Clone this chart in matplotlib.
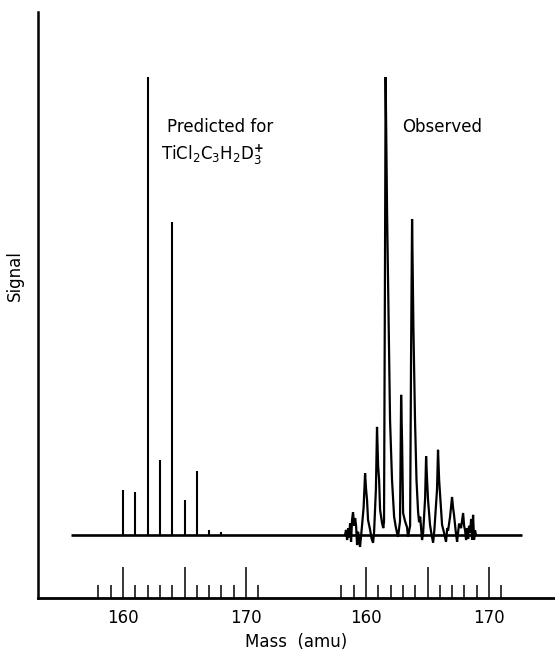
"""Predicted vs observed isotope pattern for TiCl2C3H2D3+ (stick spectrum + trace)."""

import matplotlib
matplotlib.use("Agg")
import matplotlib.pyplot as plt

plt.rcParams["font.family"] = ["DejaVu Sans"]

# ------------------------------------------------------------------ data
# predicted stick spectrum (left mass scale, amu ; signal, tallest = 100)
pred_mass = [160, 161, 162, 163, 164, 165, 166, 167, 168]
pred_signal = [9.8, 9.4, 100, 16.4, 68.3, 7.6, 14.0, 1.1, 0.7]

# observed scan, points (right mass scale, amu ; signal)
obs_mass = [158.29, 158.37, 158.46, 158.54, 158.62, 158.70, 158.78, 158.86,
            158.94, 159.03, 159.11, 159.19, 159.27, 159.35, 159.43, 159.51,
            159.67, 159.80, 159.92, 160.00, 160.08, 160.16, 160.33, 160.45,
            160.57, 160.65, 160.80, 160.89, 160.98, 161.06, 161.14, 161.30,
            161.40, 161.46, 161.54, 161.59, 161.71, 161.87, 161.95, 162.11,
            162.28, 162.40, 162.52, 162.60, 162.76, 162.85, 162.93, 163.01,
            163.17, 163.33, 163.41, 163.58, 163.66, 163.74, 163.85, 163.98,
            164.10, 164.23, 164.31, 164.40, 164.55, 164.64, 164.80, 164.88,
            164.96, 165.04, 165.20, 165.30, 165.45, 165.55, 165.77, 165.85,
            165.94, 166.02, 166.18, 166.34, 166.50, 166.60, 166.67, 166.83,
            166.99, 167.07, 167.15, 167.28, 167.40, 167.48, 167.56, 167.72,
            167.89, 167.97, 168.05, 168.13, 168.21, 168.30, 168.37, 168.46,
            168.54, 168.62, 168.70, 168.78, 168.86, 168.94]
obs_signal = [0.0, 1.1, -1.1, 1.5, -0.5, 2.5, -1.5, 3.3,
              5.0, 2.0, 3.7, 2.0, -2.2, 0.7, -1.0, -2.6,
              2.0, 6.0, 13.5, 10.0, 7.6, 3.3, 1.1, -0.8,
              -1.7, 0.5, 10.0, 23.6, 15.0, 12.0, 5.5, 2.6,
              1.5, 3.0, 60.0, 100.0, 70.0, 40.0, 25.0, 12.0,
              4.0, 2.0, 0.4, -0.4, 3.0, 30.6, 20.0, 4.8,
              3.0, 1.7, -0.4, 2.0, 40.0, 69.0, 45.0, 25.0,
              12.0, 5.0, 2.8, 4.0, -1.1, 0.5, 8.0, 17.2,
              12.0, 7.6, 2.2, 0.5, -1.7, 1.0, 10.0, 18.6,
              12.0, 8.7, 2.2, 0.5, -1.5, 1.5, 1.0, 4.0,
              8.3, 6.0, 4.4, 1.0, -1.5, 0.5, 2.5, 1.5,
              4.8, 2.0, 1.0, -1.1, 1.5, -0.8, 2.0, 0.5,
              3.5, -1.0, 4.4, -1.0, 1.0, 0.0]

# baseline extent: start on the left scale, end on the right scale
base_start = 155.8
base_end = 172.7

# the right-hand mass scale sits this many amu to the right of the left one
OFFSET = 19.76
tick_mass = list(range(158, 172))
major_mass = [160, 165, 170]
major_labels = ["160", "", "170"]

# ------------------------------------------------------------------ figure
fig = plt.figure(figsize=(5.55, 6.54), dpi=100)
ax = fig.add_axes([0.0685, 0.0856, 0.9315, 0.8961])

ax.hlines(0, base_start, base_end + OFFSET, color="black", lw=1.9)
ax.vlines(pred_mass, 0, pred_signal, color="black", lw=1.5)
ax.plot([m + OFFSET for m in obs_mass], obs_signal, color="black", lw=1.6,
        solid_joinstyle="miter")

ax.set_xlim(153.09, 195.12)
ax.set_ylim(-13.76, 114.2)

ax.text(163.6, 87.9, "Predicted for", fontsize=12, ha="left", va="baseline")
ax.text(163.1, 81.9, r"TiCl$_2$C$_3$H$_2$D$_3^{\mathbf{+}}$", fontsize=12,
        ha="left", va="baseline")
ax.text(162.9 + OFFSET, 87.9, "Observed", fontsize=12, ha="left",
        va="baseline")

# ------------------------------------------------------------------ axes
for side in ("top", "right"):
    ax.spines[side].set_visible(False)
ax.spines["left"].set_linewidth(1.8)
ax.spines["bottom"].set_linewidth(2.0)
ax.set_yticks([])

majors = major_mass + [m + OFFSET for m in major_mass]
ax.set_xticks(majors)
ax.set_xticklabels(major_labels + major_labels, fontsize=12)
minors = [m for m in tick_mass if m not in major_mass]
ax.set_xticks(minors + [m + OFFSET for m in minors], minor=True)
ax.tick_params(axis="x", which="major", direction="in", length=22, width=1.1,
               pad=8)
ax.tick_params(axis="x", which="minor", direction="in", length=9.5, width=1.1)

ax.set_xlabel("Mass  (amu)", fontsize=12, labelpad=4)
ax.set_ylabel("Signal", fontsize=12)
ax.yaxis.set_label_coords(-0.027, 0.55)

fig.savefig("out.png", dpi=100)
